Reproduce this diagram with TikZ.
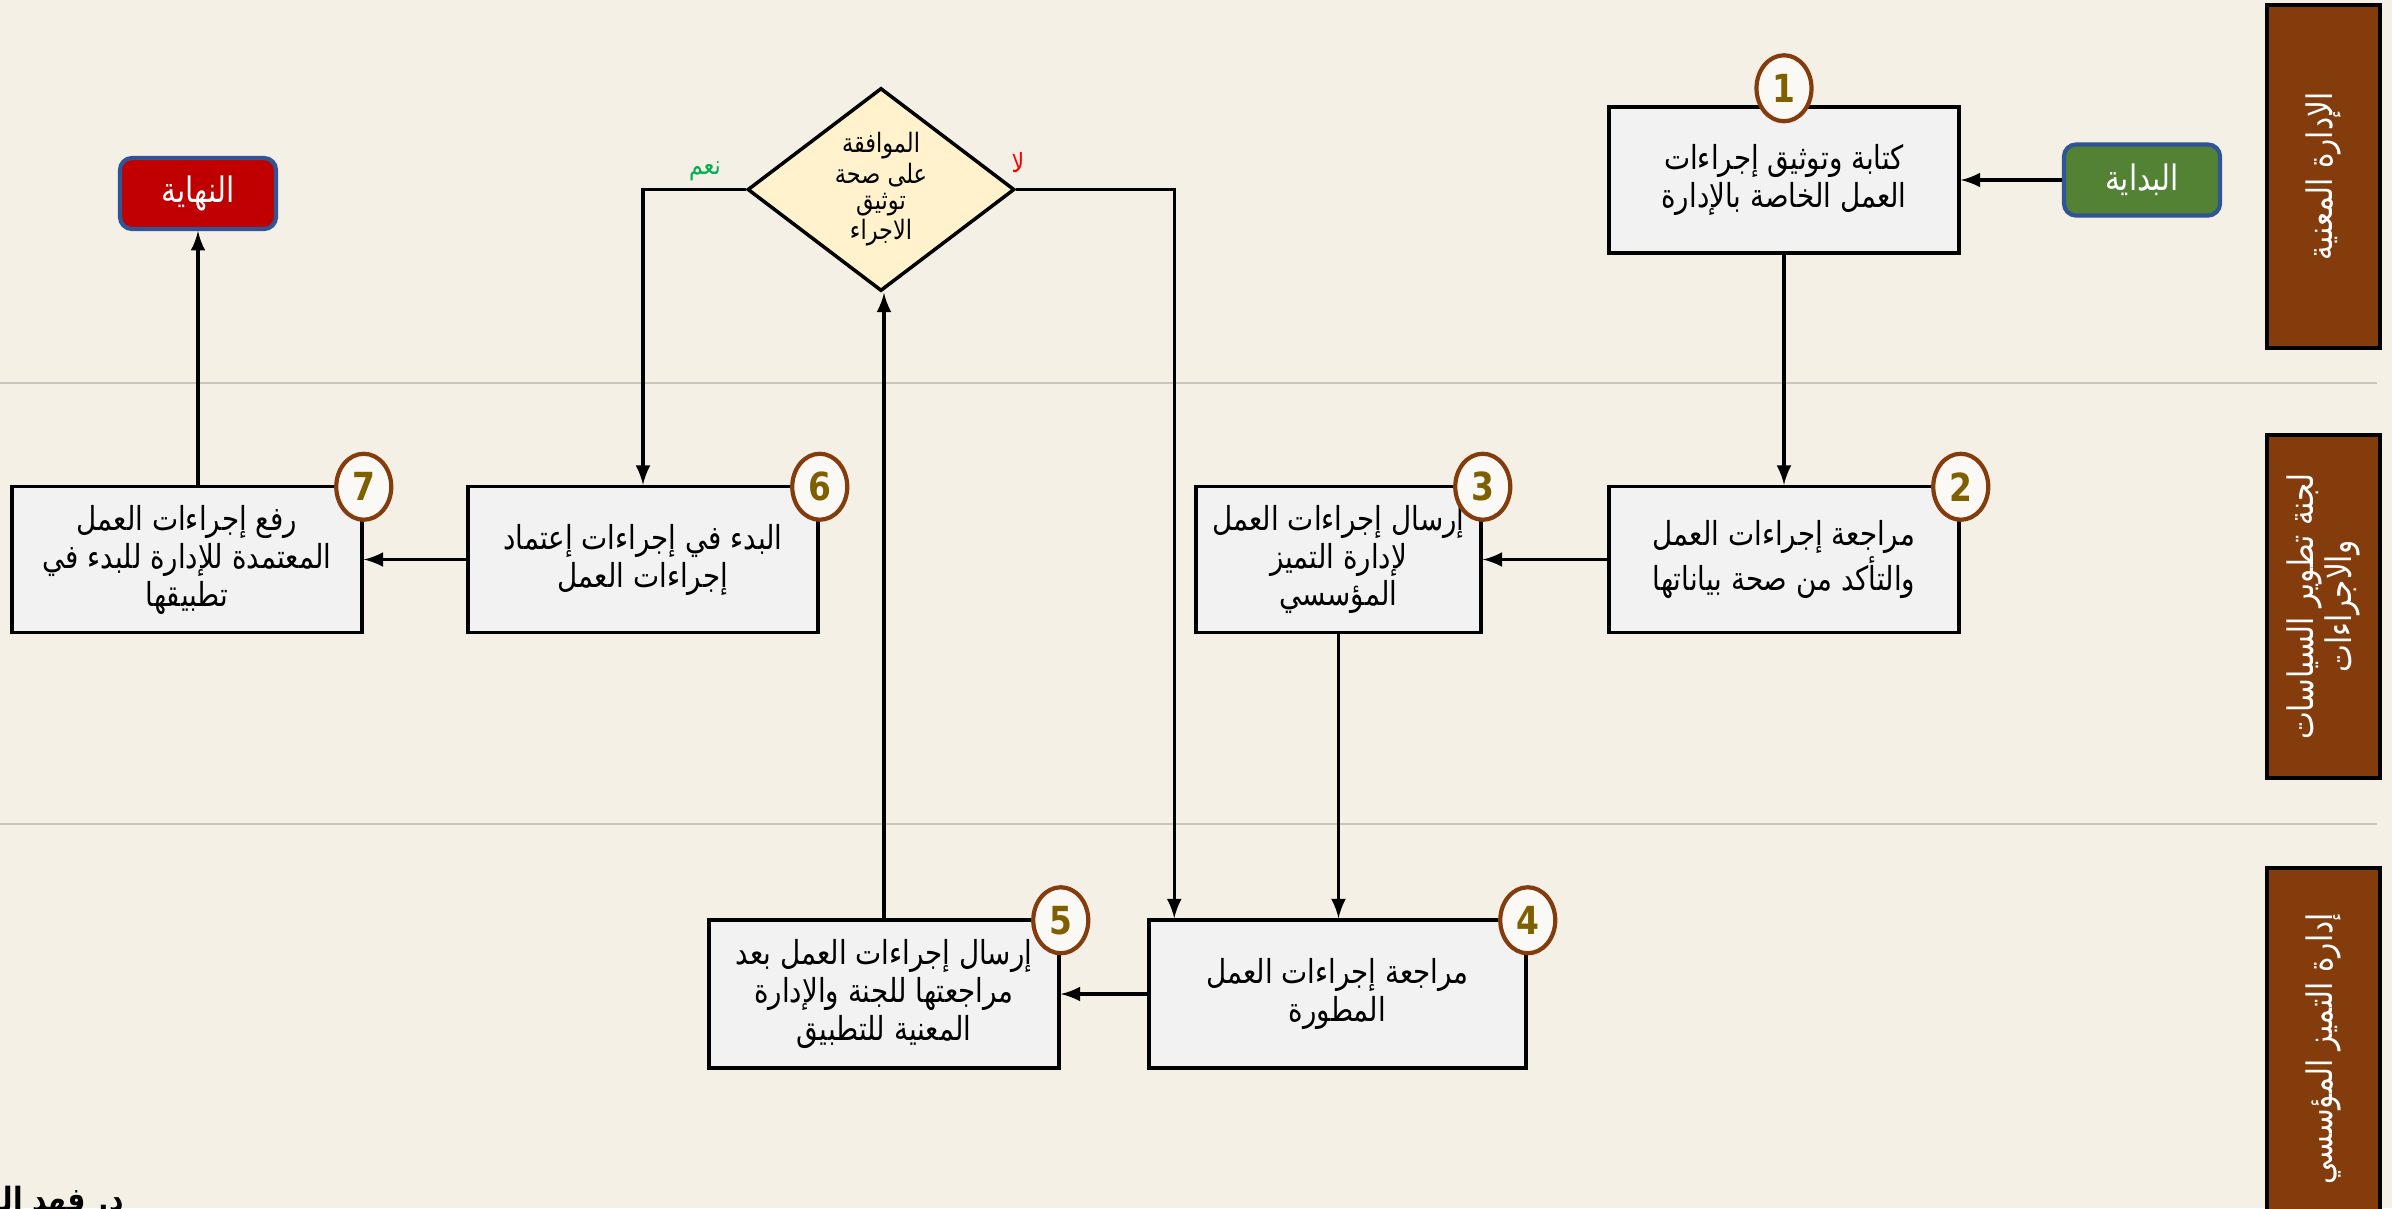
\documentclass[tikz,border=0pt]{standalone}
\usepackage{fontspec}
\usetikzlibrary{shapes.geometric}
\TeXXeTstate=1
\newfontfamily\arabicfont[Script=Arabic,FakeStretch=0.84]{DejaVu Sans}
\newfontfamily\numfont[FakeStretch=0.85]{DejaVu Sans}
\newcommand{\artxt}[1]{\beginR #1\endR}
\definecolor{bgc}{HTML}{F4F0E5}
\definecolor{lanec}{HTML}{843C0C}
\definecolor{boxc}{HTML}{F2F2F2}
\definecolor{decc}{HTML}{FFF2CC}
\definecolor{numc}{HTML}{7F6000}
\definecolor{startc}{HTML}{548235}
\definecolor{endc}{HTML}{C00000}
\definecolor{edgec}{HTML}{2F5597}
\definecolor{yesc}{HTML}{00B050}
\definecolor{sepc}{HTML}{C8C6C0}

\begin{document}
\begin{tikzpicture}[>=latex,
  box/.style={draw,fill=boxc,line width=1pt,minimum width=3.5cm,minimum height=1.46cm,
    inner sep=0pt,align=center,font=\arabicfont\fontsize{9.4}{10.8}\selectfont},
  term/.style={draw=edgec,line width=1.2pt,rounded corners=0.12cm,minimum width=1.56cm,
    minimum height=0.71cm,text=white,font=\arabicfont\fontsize{10}{12}\selectfont},
  numc/.style={ellipse,draw=lanec,fill=white!60!bgc,line width=1.2pt,minimum width=0.55cm,
    minimum height=0.66cm,inner sep=0pt,text=numc,font=\numfont\bfseries\fontsize{11}{11}\selectfont},
  dec/.style={diamond,draw,fill=decc,line width=1pt,aspect=1.31,minimum width=2.67cm,
    minimum height=2.03cm,inner sep=0pt,align=center,font=\arabicfont\fontsize{7.6}{7.5}\selectfont},
  lanebox/.style={draw=black,fill=lanec,line width=1pt},
  lanetxt/.style={rotate=90,text=white,align=center,font=\arabicfont\fontsize{10}{11}\selectfont},
  lbl/.style={font=\arabicfont\fontsize{7.5}{8}\selectfont},
  arr/.style={->,line width=0.9pt},
  sepline/.style={draw=sepc,line width=0.6pt}]
  \useasboundingbox (0,0) rectangle (23.92,-12.08);
  \fill[bgc] (0,0) rectangle (23.92,-12.08);
  \clip (0,0) rectangle (23.92,-12.08);

  % lanes
  \foreach \y in {3.83,8.24}
    \draw[sepline] (0,-\y) -- (23.77,-\y);
  \foreach \i/\yt/\yb/\txt in {1/0.05/3.48/{\artxt{الإدارة المعنية}},
      2/4.35/7.78/{\artxt{لجنة تطوير السياسات}\\\artxt{والاجراءات}},
      3/8.68/12.30/{\artxt{إدارة التميز المؤسسي}}} {
    \draw[lanebox] (22.67,-\yt) rectangle (23.80,-\yb);
    \node[lanetxt] (lane\i) at (23.235,{-(\yt+\yb)/2}) {\txt};
  }

  % steps
  \node[term,fill=startc] (start) at (21.42,-1.80) {\artxt{البداية}};
  \node[box] (b1) at (17.84,-1.80) {\artxt{كتابة وتوثيق إجراءات}\\\artxt{العمل الخاصة بالإدارة}};
  \node[box] (b2) at (17.84,-5.595) {\artxt{مراجعة إجراءات العمل}\\\artxt{والتأكد من صحة بياناتها}};
  \node[box,minimum width=2.85cm] (b3) at (13.385,-5.595) {\artxt{إرسال إجراءات العمل}\\\artxt{لإدارة التميز}\\\artxt{المؤسسي}};
  \node[box,minimum width=3.77cm,minimum height=1.48cm] (b4) at (13.375,-9.94) {\artxt{مراجعة إجراءات العمل}\\\artxt{المطورة}};
  \node[box,minimum height=1.48cm] (b5) at (8.84,-9.94) {\artxt{إرسال إجراءات العمل بعد}\\\artxt{مراجعتها للجنة والإدارة}\\\artxt{المعنية للتطبيق}};
  \node[dec] (dec) at (8.81,-1.895) {\artxt{الموافقة}\\\artxt{على صحة}\\\artxt{توثيق}\\\artxt{الاجراء}};
  \node[box] (b6) at (6.43,-5.595) {\artxt{البدء في إجراءات إعتماد}\\\artxt{إجراءات العمل}};
  \node[box] (b7) at (1.87,-5.595) {\artxt{رفع إجراءات العمل}\\\artxt{المعتمدة للإدارة للبدء في}\\\artxt{تطبيقها}};
  \node[term,fill=endc] (end) at (1.98,-1.935) {\artxt{النهاية}};

  % numbers
  \node[numc] (n1) at ([yshift=0.17cm]b1.north) {1};
  \foreach \b/\n in {b2/2,b3/3,b4/4,b5/5,b6/6,b7/7}
    \node[numc] (n\n) at ([yshift=-0.02cm]\b.north east) {\n};

  % connectors
  \draw[arr] (start) -- (b1);
  \draw[arr] (b1) -- (b2);
  \draw[arr] (b2) -- (b3);
  \draw[arr] (b3) -- (b3 |- b4.north);
  \draw[arr] (b4) -- (b5);
  \draw[arr] (b5.north) -- (b5.north |- dec.south);
  \draw[arr] (dec.east) -| ([xshift=0.27cm]b4.north west);
  \draw[arr] (dec.west) -| (b6.north);
  \draw[arr] (b6) -- (b7);
  \draw[arr] (end.south |- b7.north) -- (end.south);
  \node[lbl,text=yesc] (yes) at (7.05,-1.71) {\artxt{نعم}};
  \node[lbl,text=red] (no) at (10.18,-1.63) {\artxt{لا}};

  \node[anchor=base east,font=\arabicfont\bfseries\fontsize{9.5}{10}\selectfont] (sig) at (1.36,-12.11) {\artxt{د. فهد الغيـ}};
\end{tikzpicture}
\end{document}
